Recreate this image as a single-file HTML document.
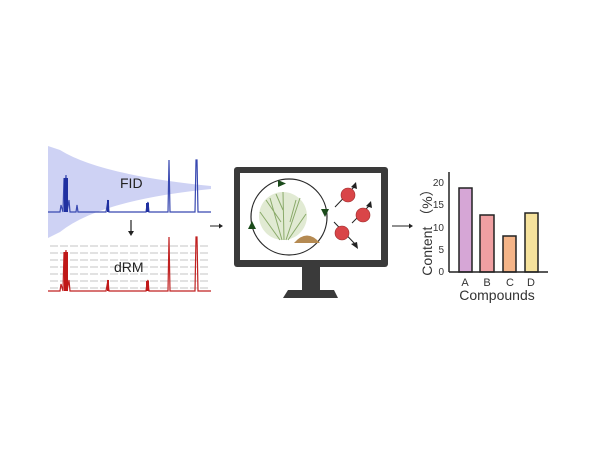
<!DOCTYPE html>
<html><head><style>body{margin:0;background:#fff}svg{display:block}</style></head><body>
<svg width="600" height="450" viewBox="0 0 600 450" xmlns="http://www.w3.org/2000/svg" font-family="Liberation Sans, sans-serif">
<rect width="600" height="450" fill="#fff"/>
<path d="M48,146 L60,150 Q100,175 211,186 L211,189 Q100,200 60,232 L48,238 Z" fill="#c9cdf3" opacity="0.9"/>
<path d="M48,212 L60,212 L61,205 L63,212 L64,178 L65,190 L66,175 L67,212 L69,200 L70,212 L76,212 L77,205 L78,212 L106,212 L108,200 L109,212 L146,212 L147,205 L148,202 L149,212 L168,212 L169,160 L170,212 L195,212 L196,160 L197,160 L198,212 L211,212" fill="none" stroke="#3848b0" stroke-width="1.2"/>
<g fill="#2030a0"><rect x="64" y="178" width="4" height="34"/><rect x="107" y="200" width="2" height="12"/><rect x="146" y="203" width="3" height="9"/></g>
<text x="120" y="188" font-size="14" fill="#222">FID</text>
<line x1="131" y1="220" x2="131" y2="232" stroke="#222" stroke-width="1.2"/><path d="M128,231 L134,231 L131,236 Z" fill="#222"/>
<g stroke="#e2e2e2" stroke-width="2" stroke-dasharray="8 2">
<line x1="50" y1="246" x2="210" y2="246"/><line x1="50" y1="253" x2="210" y2="253"/><line x1="50" y1="260" x2="210" y2="260"/><line x1="50" y1="267" x2="210" y2="267"/><line x1="50" y1="274" x2="210" y2="274"/><line x1="50" y1="281" x2="210" y2="281"/><line x1="50" y1="288" x2="210" y2="288"/></g>
<path d="M48,291 L60,291 L61,284 L63,291 L64,252 L65,262 L66,250 L67,291 L69,280 L70,291 L106,291 L108,280 L109,291 L146,291 L147,283 L148,280 L149,291 L168,291 L169,237 L170,291 L195,291 L196,237 L197,237 L198,291 L211,291" fill="none" stroke="#c02020" stroke-width="1.2"/>
<g fill="#c01818"><rect x="64" y="252" width="4" height="39"/><rect x="107" y="280" width="2" height="11"/><rect x="146" y="281" width="3" height="10"/></g>
<text x="114" y="272" font-size="14" fill="#222">dRM</text>
<line x1="210" y1="226" x2="220" y2="226" stroke="#222"/><path d="M219,223.5 L223,226 L219,228.5Z" fill="#222"/>
<!-- monitor -->
<rect x="234" y="167" width="154" height="100" rx="3" fill="#3a3a3a"/>
<rect x="240" y="173" width="141" height="87" fill="#fff"/>
<rect x="302" y="267" width="18" height="23" fill="#3a3a3a"/>
<path d="M288,290 L334,290 L338,298 L283,298 Z" fill="#3a3a3a"/>
<circle cx="289" cy="217" r="38" fill="none" stroke="#2a2a2a" stroke-width="1.2"/>
<path d="M278,180 l8,3.5 -8,3.5Z M321,209 l8,0 -4,8Z M248,229 l4,-8 4,8Z" fill="#1a4a1a"/>
<ellipse cx="283" cy="216" rx="24" ry="24" fill="#c4d6a8" opacity="0.5"/>
<g stroke="#8aaa6a" stroke-width="1" fill="none">
<path d="M282,240 L270,198 M284,240 L283,192 M286,240 L300,198 M280,240 L260,212 M288,240 L306,214 M281,222 L266,200 M290,222 L296,200 M283,210 L276,194"/></g>
<path d="M294,243 Q307,228 320,243 Z" fill="#b58a52"/>
<g stroke="#222" stroke-width="1"><line x1="335" y1="207" x2="355" y2="186"/><line x1="352" y1="223" x2="370" y2="205"/><line x1="334" y1="222" x2="356" y2="245"/></g>
<path d="M356,182 l1,7 -6,-2Z M371,201 l1,7 -6,-2Z M358,249 l-1,-7 -6,2Z" fill="#222"/>
<g fill="#d94548" stroke="#9a2a2a" stroke-width="0.6"><circle cx="348" cy="195" r="7"/><circle cx="363" cy="215" r="7"/><circle cx="342" cy="233" r="7"/></g>
<line x1="392" y1="226" x2="410" y2="226" stroke="#222"/><path d="M409,223.5 L413,226 L409,228.5Z" fill="#222"/>
<!-- bar chart -->
<g fill="#333" font-size="10" text-anchor="end">
<text x="444" y="186">20</text><text x="444" y="208">15</text><text x="444" y="231">10</text><text x="444" y="253">5</text><text x="444" y="275">0</text></g>
<text transform="translate(432,229) rotate(-90)" font-size="14" fill="#333" text-anchor="middle">Content （%）</text>
<g stroke="#222" stroke-width="1.5">
<rect x="459" y="188" width="13" height="84" fill="#d6a6d6"/>
<rect x="480" y="215" width="14" height="57" fill="#f0a0a2"/>
<rect x="503" y="236" width="13" height="36" fill="#f4b488"/>
<rect x="525" y="213" width="13" height="59" fill="#f6e29c"/>
<line x1="449" y1="172" x2="449" y2="272"/><line x1="449" y1="272" x2="548" y2="272"/></g>
<g fill="#333" font-size="11" text-anchor="middle"><text x="465" y="286">A</text><text x="487" y="286">B</text><text x="510" y="286">C</text><text x="531" y="286">D</text></g>
<text x="497" y="300" font-size="14" fill="#333" text-anchor="middle">Compounds</text>
</svg>
</body></html>
